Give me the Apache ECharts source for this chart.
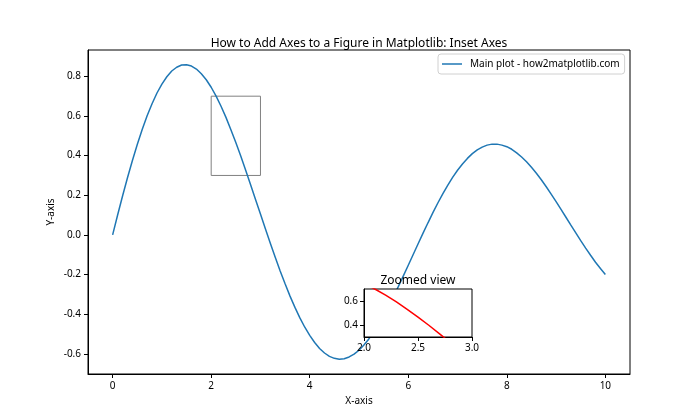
<!DOCTYPE html>
<html><head><meta charset="utf-8">
<script src="https://cdn.jsdelivr.net/npm/echarts@6/dist/echarts.min.js"></script>
<style>html,body{margin:0;padding:0;background:#fff}#c{width:700px;height:420px}</style>
</head><body><div id="c"></div>
<script>
// main curve
const mainX = [0,0.1,0.2,0.3,0.4,0.5,0.6,0.7,0.8,0.9,1.0,1.1,1.2,1.3,1.4,1.5,1.6,1.7,1.8,1.9,
  2.0,2.1,2.2,2.3,2.4,2.5,2.6,2.7,2.8,2.9,3.0,3.1,3.2,3.3,3.4,3.5,3.6,3.7,3.8,3.9,
  4.0,4.1,4.2,4.3,4.4,4.5,4.6,4.7,4.8,4.9,5.0,5.1,5.2,5.3,5.4,5.5,5.6,5.7,5.8,5.9,
  6.0,6.1,6.2,6.3,6.4,6.5,6.6,6.7,6.8,6.9,7.0,7.1,7.2,7.3,7.4,7.5,7.6,7.7,7.8,7.9,
  8.0,8.1,8.2,8.3,8.4,8.5,8.6,8.7,8.8,8.9,9.0,9.1,9.2,9.3,9.4,9.5,9.6,9.7,9.8,9.9,10.0];
const mainY = [0,0.099,0.195,0.287,0.374,0.456,0.532,0.601,0.662,0.716,0.761,0.798,0.827,0.846,0.857,0.859,0.852,0.837,0.813,0.783,
  0.745,0.700,0.649,0.593,0.531,0.466,0.398,0.326,0.253,0.179,0.105,0.031,-0.042,-0.113,-0.182,-0.247,-0.309,-0.366,-0.419,-0.466,
  -0.507,-0.543,-0.573,-0.596,-0.613,-0.623,-0.627,-0.625,-0.616,-0.602,-0.582,-0.556,-0.525,-0.490,-0.450,-0.407,-0.361,-0.311,-0.260,-0.207,
  -0.153,-0.099,-0.045,0.009,0.061,0.112,0.161,0.207,0.250,0.290,0.326,0.358,0.386,0.410,0.429,0.443,0.453,0.458,0.458,0.453,
  0.445,0.432,0.414,0.393,0.369,0.341,0.311,0.278,0.243,0.206,0.168,0.129,0.089,0.049,0.010,-0.029,-0.067,-0.103,-0.138,-0.170,-0.200];
// inset (zoomed) curve
const insetX = [2.0,2.1,2.2,2.3,2.4,2.5,2.6,2.7,2.8,2.9,3.0];
const insetY = [0.745,0.700,0.649,0.593,0.531,0.466,0.398,0.326,0.253,0.179,0.105];
// zoom rectangle in data coordinates
const zoomBox = {x0:2, x1:3, y0:0.3, y1:0.7};
const mainXTicks = [0,2,4,6,8,10];
const mainYTicks = [-0.6,-0.4,-0.2,0.0,0.2,0.4,0.6,0.8];
const insetXTicks = [2.0,2.5,3.0];
const insetYTicks = [0.4,0.6];
const seriesName = 'Main plot - how2matplotlib.com';

const FONT = 'Noto Sans';
const fmt = v => Number(v).toFixed(1);
const fmtInt = v => String(Math.round(v));

const chart = echarts.init(document.getElementById('c'), null, {renderer:'canvas'});
const axisCommon = {
  axisLine:{show:true, onZero:false, lineStyle:{color:'#000', width:1}},
  axisTick:{show:true, length:4, inside:false, lineStyle:{color:'#000', width:1}},
  splitLine:{show:false},
  axisLabel:{color:'#000', fontFamily:FONT, fontSize:10}
};
chart.setOption({
  animation:false,
  backgroundColor:'#fff',
  textStyle:{fontFamily:FONT},
  title:[
    {text:'How to Add Axes to a Figure in Matplotlib: Inset Axes', left:354, top:33, textAlign:'center',
     textStyle:{fontFamily:FONT, fontSize:12, fontWeight:'normal', color:'#000'}},
    {text:'Zoomed view', left:413, top:270, textAlign:'center', z:70,
     textStyle:{fontFamily:FONT, fontSize:12, fontWeight:'normal', color:'#000'}}
  ],
  legend:{
    data:[seriesName], left:438, top:54, orient:'vertical',
    padding:[5,5,5,4], borderColor:'#d0d0d0', borderWidth:1, borderRadius:3,
    backgroundColor:'#fff',
    icon:'rect', itemWidth:20, itemHeight:1.5,
    textStyle:{fontFamily:FONT, fontSize:10, color:'#000', padding:[0,0,0,3]}
  },
  graphic:[
    {type:'rect', shape:{x:364, y:289, width:108, height:48}, z:50,
     style:{fill:'#fff', stroke:'#000', lineWidth:1}}
  ],
  grid:[
    {left:88, top:50, width:542, height:324, show:true, borderColor:'#000', borderWidth:1, backgroundColor:'transparent'},
    {left:364, top:289, width:108, height:48, show:false, z:60}
  ],
  xAxis:[
    Object.assign({}, axisCommon, {gridIndex:0, type:'value', min:-0.5, max:10.5,
      name:'X-axis', nameLocation:'middle', nameGap:22,
      nameTextStyle:{fontFamily:FONT, fontSize:10, color:'#000'},
      axisTick:Object.assign({}, axisCommon.axisTick, {customValues:mainXTicks}),
      axisLabel:Object.assign({}, axisCommon.axisLabel, {customValues:mainXTicks, formatter:fmtInt, margin:7})}),
    Object.assign({}, axisCommon, {gridIndex:1, type:'value', min:2, max:3, z:60,
      axisTick:Object.assign({}, axisCommon.axisTick, {customValues:insetXTicks}),
      axisLabel:Object.assign({}, axisCommon.axisLabel, {customValues:insetXTicks, formatter:fmt, margin:6})})
  ],
  yAxis:[
    Object.assign({}, axisCommon, {gridIndex:0, type:'value', min:-0.702, max:0.933,
      name:'Y-axis', nameLocation:'middle', nameGap:32, nameRotate:90, nameMoveOverlap:false,
      nameTextStyle:{fontFamily:FONT, fontSize:10, color:'#000'},
      axisTick:Object.assign({}, axisCommon.axisTick, {customValues:mainYTicks}),
      axisLabel:Object.assign({}, axisCommon.axisLabel, {customValues:mainYTicks, formatter:fmt, margin:7})}),
    Object.assign({}, axisCommon, {gridIndex:1, type:'value', min:0.3, max:0.7, z:60,
      axisTick:Object.assign({}, axisCommon.axisTick, {customValues:insetYTicks}),
      axisLabel:Object.assign({}, axisCommon.axisLabel, {customValues:insetYTicks, formatter:fmt, margin:6})})
  ],
  series:[
    {name:seriesName, type:'line', xAxisIndex:0, yAxisIndex:0, z:3,
     data:mainX.map((x,i)=>[x, mainY[i]]), showSymbol:false, smooth:false,
     lineStyle:{color:'#1f77b4', width:1.5}, itemStyle:{color:'#1f77b4'},
     markArea:{silent:true, itemStyle:{color:'rgba(0,0,0,0)', borderColor:'#808080', borderWidth:1},
       data:[[{coord:[zoomBox.x0, zoomBox.y1]},{coord:[zoomBox.x1, zoomBox.y0]}]]}},
    {name:'inset', type:'line', xAxisIndex:1, yAxisIndex:1, z:60, clip:true,
     data:insetX.map((x,i)=>[x, insetY[i]]), showSymbol:false, smooth:false,
     lineStyle:{color:'#ff0000', width:1.5}, itemStyle:{color:'#ff0000'}}
  ]
});
</script></body></html>
